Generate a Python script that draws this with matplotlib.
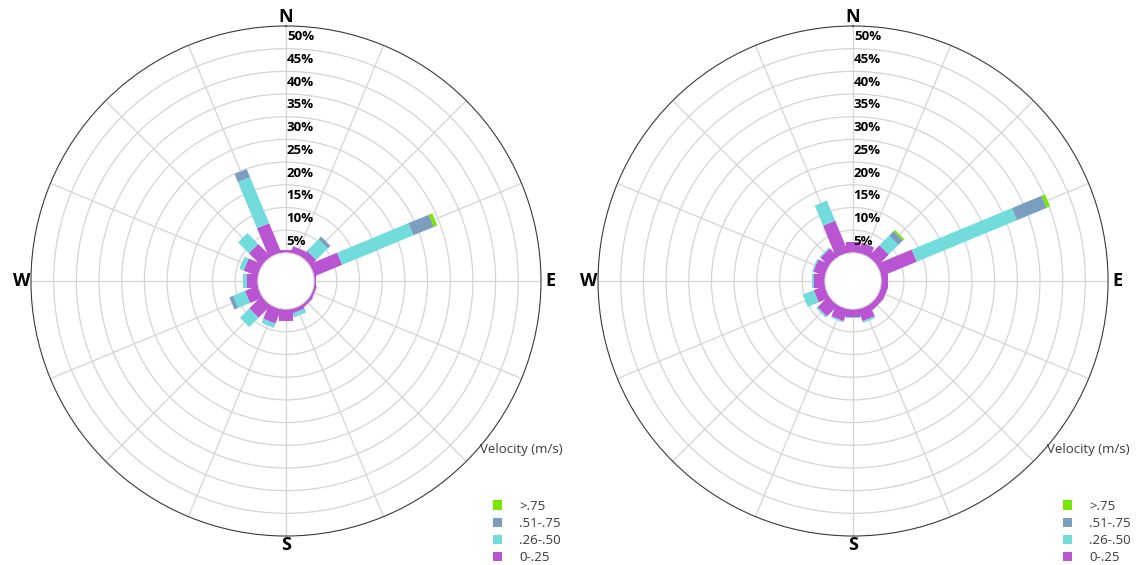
import numpy as np
import matplotlib.pyplot as plt
from matplotlib.patches import Polygon, Patch

plt.rcParams['font.family'] = ['Open Sans', 'DejaVu Sans']

# 16 compass directions, clockwise from north
directions = ['N', 'NNE', 'NE', 'ENE', 'E', 'ESE', 'SE', 'SSE',
              'S', 'SSW', 'SW', 'WSW', 'W', 'WNW', 'NW', 'NNW']
direction_deg = np.arange(16) * 22.5

speed_bins = ['0-.25', '.26-.50', '.51-.75', '>.75']
bin_colors = ['#b954d3', '#72dcdc', '#7b9ec0', '#78e800']

# frequency (%) per direction for each velocity class - left rose
left_0_25 = [0.7, 1.5, 1.8, 6.6, 0.4, 0.6, 0.7, 1.0, 2.7, 3.4, 3.8, 3.0, 2.4, 3.3, 3.9, 7.0]
left_26_50 = [0.0, 0.0, 3.6, 17.0, 0.0, 0.0, 0.0, 0.9, 0.0, 1.0, 2.9, 2.8, 0.8, 1.0, 3.4, 11.0]
left_51_75 = [0.0, 0.0, 0.8, 4.9, 0.0, 0.0, 0.0, 0.0, 0.0, 0.0, 0.0, 0.9, 0.0, 0.0, 0.0, 1.9]
left_75 = [0.0, 0.0, 0.0, 0.8, 0.0, 0.0, 0.0, 0.0, 0.0, 0.0, 0.0, 0.0, 0.0, 0.0, 0.0, 0.0]

# right rose
right_0_25 = [2.4, 2.4, 3.5, 8.4, 1.4, 1.5, 1.4, 2.8, 1.7, 2.8, 3.4, 2.6, 2.5, 2.7, 2.5, 7.6]
right_26_50 = [0.0, 0.0, 3.0, 23.9, 0.0, 0.0, 0.0, 0.4, 0.3, 0.3, 0.4, 2.6, 0.4, 0.3, 0.3, 4.8]
right_51_75 = [0.0, 0.0, 1.4, 7.1, 0.0, 0.0, 0.0, 0.0, 0.0, 0.0, 0.0, 0.0, 0.0, 0.0, 0.0, 0.0]
right_75 = [0.0, 0.0, 0.4, 0.8, 0.0, 0.0, 0.0, 0.0, 0.0, 0.0, 0.0, 0.0, 0.0, 0.0, 0.0, 0.0]

ring_values = list(range(5, 55, 5))
cardinal = {'N', 'E', 'S', 'W'}

R_ORIGIN = 6.2     # size of the empty hole, in % units
HALF_W = 1.45      # half width of the straight bars, in % units


def bar_poly(theta, r0, r1, color):
    # straight (constant width) bar along direction theta, from r0 to r1
    d0, d1 = r0 + R_ORIGIN, r1 + R_ORIGIN
    pts = []
    for d, s in [(d0, -1), (d1, -1), (d1, 1), (d0, 1)]:
        pts.append((theta + s * np.arctan2(HALF_W, d), np.hypot(d, HALF_W) - R_ORIGIN))
    return Polygon(pts, closed=True, facecolor=color, edgecolor='none')


def draw_rose(ax, classes):
    ax.set_theta_zero_location('N')
    ax.set_theta_direction(-1)
    ax.set_axisbelow(True)
    theta = np.deg2rad(direction_deg)
    bottoms = np.zeros(len(directions))
    for vals, col in zip(classes, bin_colors):
        vals = np.asarray(vals)
        for th, b, v in zip(theta, bottoms, vals):
            if v > 0:
                ax.add_patch(bar_poly(th, b, b + v, col))
        bottoms = bottoms + vals

    ax.set_rorigin(-R_ORIGIN)
    ax.set_ylim(0, 50)
    ax.set_yticks(ring_values[:-1])
    ax.set_yticklabels([])
    ax.set_thetagrids(direction_deg,
                      [d if d in cardinal else '' for d in directions],
                      fontsize=13, fontweight='bold')
    ax.tick_params(axis='x', pad=-4)
    ax.grid(True, color='#d4d4d4', lw=0.9)
    ax.spines['polar'].set_color('#3a3a3a')
    ax.spines['polar'].set_linewidth(0.8)
    ax.spines['inner'].set_color('#d4d4d4')

    for v in ring_values:
        ax.text(0.005, v - 2.4, f'{v}%', ha='left', va='center',
                fontsize=9.5, fontweight='bold', color='black', zorder=5)

    handles = [Patch(facecolor=c, edgecolor='none') for c in bin_colors][::-1]
    return handles


fig = plt.figure(figsize=(11.38, 5.65), dpi=100)
ax1 = fig.add_axes([0.0272, 0.0513, 0.4482, 0.9027], projection='polar')
ax2 = fig.add_axes([0.5255, 0.0513, 0.4482, 0.9027], projection='polar')

h = draw_rose(ax1, [left_0_25, left_26_50, left_51_75, left_75])
draw_rose(ax2, [right_0_25, right_26_50, right_51_75, right_75])

for xpos, lx in [(480, 486), (1047, 1056)]:
    fig.text(xpos / 1138, 1 - 450 / 565, 'Velocity (m/s)', fontsize=9.5,
             color='#3a3a3a', ha='left', va='center')
    fig.legend(h, speed_bins[::-1], loc='upper left',
               bbox_to_anchor=(lx / 1138, 1 - 493 / 565), frameon=False,
               fontsize=9.5, handlelength=0.7, handleheight=0.7,
               labelspacing=0.32, handletextpad=1.3, borderpad=0,
               labelcolor='#3a3a3a')

fig.savefig('out.png', dpi=100)
